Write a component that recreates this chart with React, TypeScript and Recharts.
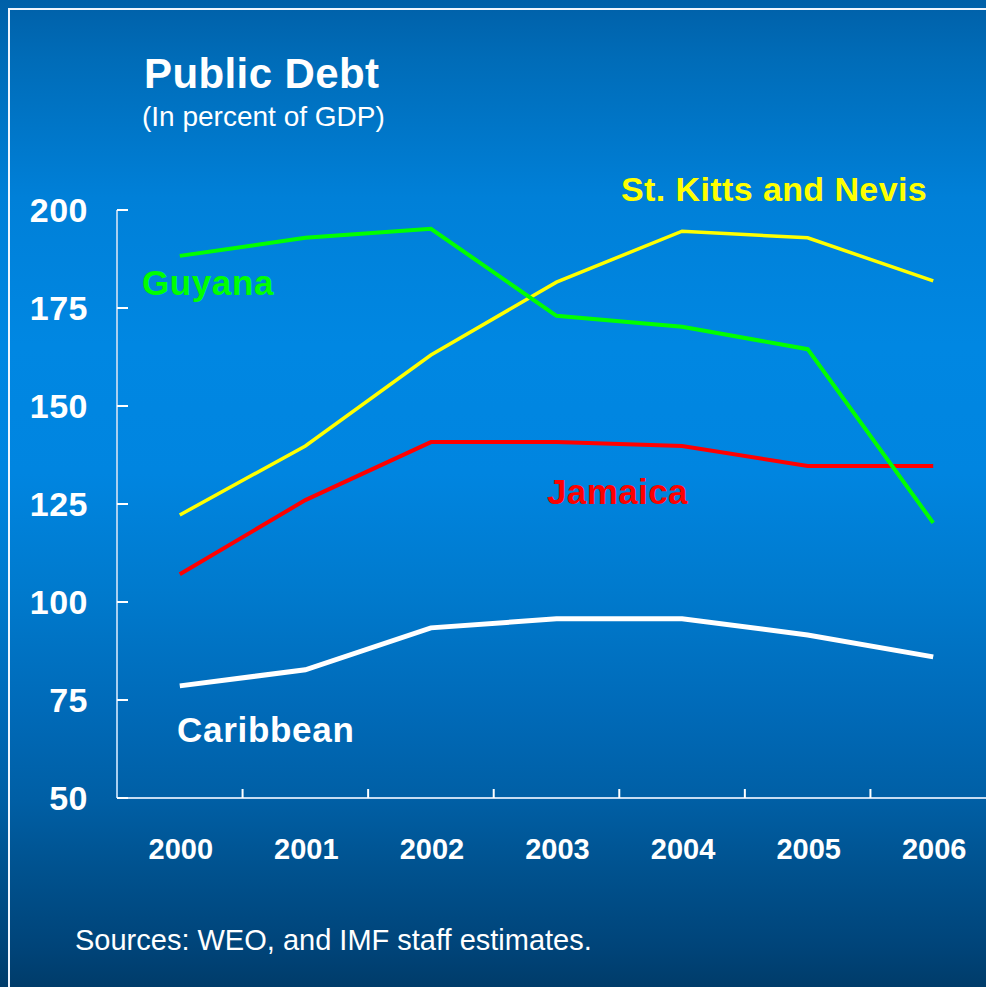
import { Line, LineChart, XAxis, YAxis } from 'recharts';

const years = ['2000', '2001', '2002', '2003', '2004', '2005', '2006'];
const guyana = [188.3, 192.9, 195.2, 173.0, 170.2, 164.5, 120.2];
const stKitts = [122.2, 139.8, 163.0, 181.6, 194.6, 192.9, 181.9];
const jamaica = [107.1, 126.0, 140.8, 140.8, 139.8, 134.7, 134.7];
const caribbean = [78.6, 82.7, 93.4, 95.7, 95.7, 91.6, 86.0];
const yTicks = [50, 75, 100, 125, 150, 175, 200];

const data = years.map((year, i) => ({
  year,
  guyana: guyana[i],
  stKitts: stKitts[i],
  jamaica: jamaica[i],
  caribbean: caribbean[i]
}));

const FONT = '"Liberation Sans", Arial, sans-serif';
const CHART_W = 1000;
const AXIS_LEFT = 117;
const PLOT_RIGHT = 4;
const HALF_BAND = (CHART_W - AXIS_LEFT - PLOT_RIGHT) / years.length / 2;

function YTick({ x, y, payload }: any) {
  return (
    <g>
      <line x1={x} y1={y} x2={x + 11} y2={y} stroke="#ffffff" strokeWidth={2} />
      <text
        x={x - 29}
        y={y + 12}
        textAnchor="end"
        fill="#ffffff"
        fontFamily={FONT}
        fontWeight="bold"
        fontSize={34}
        letterSpacing={0.5}
      >
        {payload.value}
      </text>
    </g>
  );
}

function XTick({ x, y, payload, index }: any) {
  return (
    <g>
      {index < years.length - 1 && (
        <line
          x1={x + HALF_BAND}
          y1={y}
          x2={x + HALF_BAND}
          y2={y - 9}
          stroke="#ffffff"
          strokeWidth={2}
        />
      )}
      <text
        x={x + 1}
        y={y + 61}
        textAnchor="middle"
        fill="#ffffff"
        fontFamily={FONT}
        fontWeight="bold"
        fontSize={29}
      >
        {payload.value}
      </text>
    </g>
  );
}

export default function App() {
  return (
    <div
      style={{
        position: 'absolute',
        left: 0,
        top: 0,
        width: 986,
        height: 987,
        overflow: 'hidden',
        background:
          'linear-gradient(to bottom, #0060a8 0%, #006cb8 6%, #0080d8 20%, #0087e2 35%, #0085e0 48%, #007acd 60%, #006ab8 72%, #005fa5 81%, #00528f 88%, #004479 96%, #003c6a 100%)'
      }}
    >
      <div
        style={{
          position: 'absolute',
          left: 8,
          top: 8,
          width: 1200,
          height: 1200,
          borderLeft: '2px solid #f0f6ff',
          borderTop: '2px solid #f0f6ff'
        }}
      />
      <div style={{ position: 'absolute', left: 0, top: 0 }}>
        <LineChart
          width={CHART_W}
          height={987}
          data={data}
          margin={{ top: 210, right: PLOT_RIGHT, left: 0, bottom: 0 }}
        >
          <XAxis
            dataKey="year"
            scale="band"
            height={189}
            interval={0}
            tickLine={false}
            tickSize={0}
            tickMargin={0}
            axisLine={{ stroke: '#c6dcf2', strokeWidth: 2 }}
            tick={<XTick />}
          />
          <YAxis
            width={AXIS_LEFT}
            domain={[50, 200]}
            ticks={yTicks}
            interval={0}
            tickLine={false}
            tickSize={0}
            tickMargin={0}
            axisLine={{ stroke: '#a9cff0', strokeWidth: 2 }}
            tick={<YTick />}
          />
          <Line
            dataKey="caribbean"
            stroke="#ffffff"
            strokeWidth={5}
            dot={false}
            isAnimationActive={false}
          />
          <Line
            dataKey="jamaica"
            stroke="#ff0000"
            strokeWidth={4}
            dot={false}
            isAnimationActive={false}
          />
          <Line
            dataKey="stKitts"
            stroke="#ffff00"
            strokeWidth={3.5}
            dot={false}
            isAnimationActive={false}
          />
          <Line
            dataKey="guyana"
            stroke="#00ff00"
            strokeWidth={4}
            dot={false}
            isAnimationActive={false}
          />
        </LineChart>
      </div>
      <svg
        width={986}
        height={987}
        style={{ position: 'absolute', left: 0, top: 0, pointerEvents: 'none' }}
        fontFamily={FONT}
      >
        <text x={144} y={88} fill="#ffffff" fontWeight="bold" fontSize={42} letterSpacing={0.4}>
          Public Debt
        </text>
        <text x={142} y={126} fill="#ffffff" fontSize={28}>
          (In percent of GDP)
        </text>
        <text x={621} y={201} fill="#ffff00" fontWeight="bold" fontSize={34} letterSpacing={0.4}>
          St. Kitts and Nevis
        </text>
        <text x={142} y={295} fill="#00ff00" fontWeight="bold" fontSize={35} letterSpacing={0.6}>
          Guyana
        </text>
        <text x={547} y={504} fill="#ff0000" fontWeight="bold" fontSize={35} letterSpacing={0.4}>
          Jamaica
        </text>
        <text x={177} y={742} fill="#ffffff" fontWeight="bold" fontSize={35} letterSpacing={0.7}>
          Caribbean
        </text>
        <text x={75} y={950} fill="#ffffff" fontSize={29}>
          Sources: WEO, and IMF staff estimates.
        </text>
      </svg>
    </div>
  );
}
